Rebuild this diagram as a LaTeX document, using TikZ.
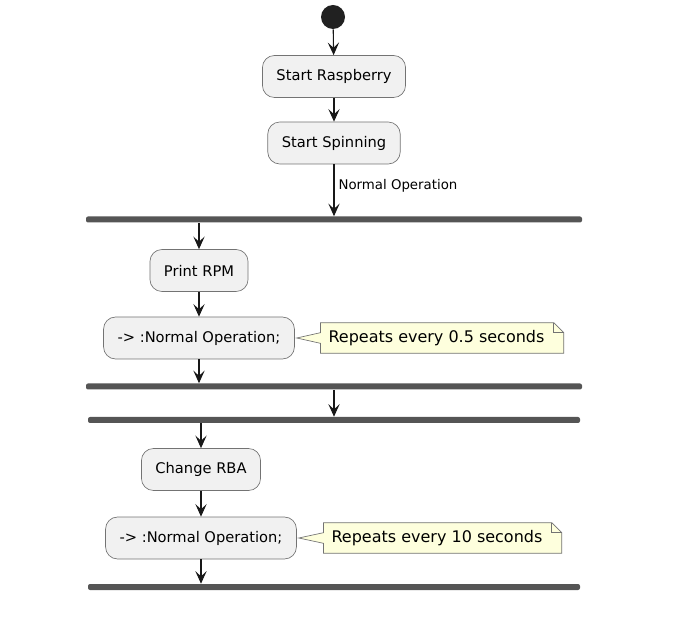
\documentclass[tikz,border=0pt]{standalone}
\usepackage{fontspec}
\setmainfont{DejaVu Sans}
\usetikzlibrary{arrows.meta,backgrounds}
\definecolor{boxfill}{HTML}{F1F1F1}
\definecolor{notefill}{HTML}{FEFFDD}
\definecolor{linecol}{HTML}{181818}
\definecolor{barcol}{HTML}{555555}
\tikzset{
  action/.style={draw=black!55, line width=0.5pt, fill=boxfill, rounded corners=9pt,
    minimum height=31.5pt, inner xsep=10.5pt, font=\fontsize{11}{13}\selectfont},
  syncbar/.style={fill=barcol, rounded corners=1.5pt, minimum height=4.5pt, inner sep=0pt},
  flow/.style={draw=linecol, line width=0.8pt, -{Stealth[length=9.5pt, width=8.5pt, inset=4pt]}},
  notetext/.style={inner xsep=0pt, minimum height=22.5pt, font=\fontsize{12}{14}\selectfont},
  noteline/.style={draw=black!55, line width=0.5pt, fill=notefill}
}
\begin{document}
\begin{tikzpicture}[x=0.75pt, y=-0.75pt]
   \useasboundingbox (0,0) rectangle (696,641);
   \node[circle, fill=black!87, minimum size=18pt, inner sep=0pt] (start) at (333,17) {};
   \node[action] (raspb) at (334,76.5) {Start Raspberry};
   \node[action] (spin) at (334,143) {Start Spinning};
   \node[syncbar, minimum width=372pt] (bar1) at (334,219.5) {};
   \node[action] (prpm) at (199,270.5) {Print RPM};
   \node[action] (nop1) at (199,338) {-> :Normal Operation;};
   \node[syncbar, minimum width=372pt] (bar2) at (334,386.5) {};
   \node[syncbar, minimum width=369pt] (bar3) at (334,420) {};
   \node[action] (rba) at (201,469.5) {Change RBA};
   \node[action] (nop2) at (201,538) {-> :Normal Operation;};
   \node[syncbar, minimum width=369pt] (bar4) at (334,587) {};
   % notes
   \node[notetext] (n1) at (436.5,338) {Repeats every 0.5 seconds};
   \node[notetext] (n2) at (437,538) {Repeats every 10 seconds};
   \begin{scope}[on background layer]
   \foreach \n/\b in {n1/nop1, n2/nop2}{
     \draw[noteline] ([xshift=-5.8pt]\n.north west) -- ([xshift=6.8pt]\n.north east)
       -- ([xshift=14.3pt,yshift=-7.5pt]\n.north east) -- ([xshift=14.3pt]\n.south east)
       -- ([xshift=-5.8pt]\n.south west) -- ([xshift=-5.8pt,yshift=-4pt]\n.west)
       -- ([xshift=1.5pt]\b.east) -- ([xshift=-5.8pt,yshift=4pt]\n.west) -- cycle;
     \draw[noteline, fill=none] ([xshift=6.8pt]\n.north east) |- ([xshift=14.3pt,yshift=-7.5pt]\n.north east);
   }
   \end{scope}
   % flow
   \draw[flow] (start) -- (raspb);
   \draw[flow] (raspb) -- (spin);
   \draw[flow] (spin) -- (spin.south |- bar1.north)
     node[pos=0.42, right, inner sep=3pt, font=\fontsize{10}{12}\selectfont] {Normal Operation};
   \draw[flow] (bar1.south -| prpm.north) -- (prpm);
   \draw[flow] (prpm) -- (nop1);
   \draw[flow] (nop1) -- (nop1.south |- bar2.north);
   \draw[flow] (bar2) -- (bar3);
   \draw[flow] (bar3.south -| rba.north) -- (rba);
   \draw[flow] (rba) -- (nop2);
   \draw[flow] (nop2) -- (nop2.south |- bar4.north);
\end{tikzpicture}
\end{document}
